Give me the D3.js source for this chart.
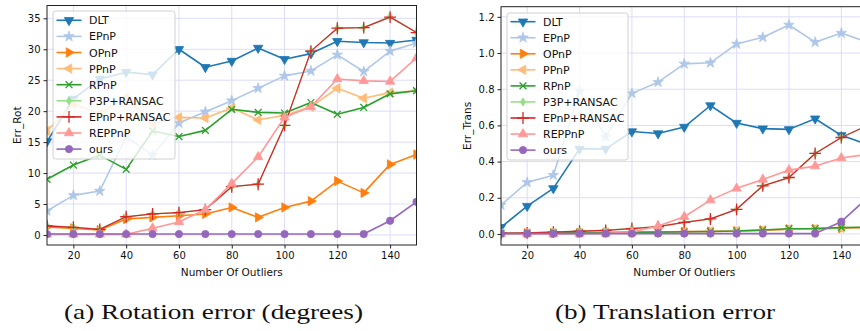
<!DOCTYPE html>
<html lang="en">
<head>
    <meta charset="UTF-8">
    <title>Rotation / Translation error vs outliers</title>
    <script src="https://d3js.org/d3.v7.min.js"></script>
    <style>
        body {
            margin: 0;
            background: #ffffff;
            font-family: 'DejaVu Sans', sans-serif;
        }
        svg { display: block; }
        .tick text { font-size: 10px; fill: #111; font-family: 'DejaVu Sans', sans-serif; }
        .tick line { stroke: #222; }
        .grid line { stroke: #dcdcfa; stroke-width: 1; }
        .axis-label { font-size: 10.5px; fill: #111; }
        .legend-text { font-size: 11px; fill: #111; }
        .caption { font-family: 'Liberation Serif', serif; font-size: 22px; fill: #111; }
    </style>
</head>
<body>
<div id="chart"></div>
<script>
    const outliers = [10, 20, 30, 40, 50, 60, 70, 80, 90, 100, 110, 120, 130, 140, 150];
    const methods = ["DLT", "EPnP", "OPnP", "PPnP", "RPnP", "P3P+RANSAC", "EPnP+RANSAC", "REPPnP", "ours"];

    // rotation error (degrees)
    const rotDLT = [15.1, 22.0, 25.2, 26.3, 25.9, 30.0, 27.1, 28.1, 30.2, 28.4, 29.3, 31.3, 31.1, 31.0, 31.5];
    const rotEPnP = [3.9, 6.4, 7.1, 15.9, 12.9, 18.1, 19.9, 21.7, 23.7, 25.7, 26.5, 29.1, 26.4, 29.7, 31.0];
    const rotOPnP = [1.3, 1.07, 0.8, 2.57, 2.85, 3.1, 3.4, 4.45, 2.85, 4.45, 5.47, 8.7, 6.8, 11.4, 13.0];
    const rotPPnP = [16.8, 21.2, 19.6, 22.2, 18.0, 19.0, 18.9, 20.5, 18.6, 19.3, 20.7, 23.7, 22.1, 23.0, 23.3];
    const rotRPnP = [9.0, 11.3, 12.9, 10.6, 16.8, 15.9, 16.9, 20.3, 19.8, 19.7, 21.4, 19.5, 20.6, 22.8, 23.3];
    const rotP3P = [1.5, 1.25, 0.95, 2.95, 3.4, 3.6, 4.1, 7.8, 8.2, 17.7, 29.7, 33.4, 33.5, 35.3, 32.7];
    const rotEPnPR = [1.45, 1.24, 0.9, 2.94, 3.4, 3.6, 4.1, 7.8, 8.2, 17.7, 29.7, 33.4, 33.5, 35.2, 32.7];
    const rotREPPnP = [0.1, 0.1, 0.1, 0.1, 1.1, 2.1, 4.1, 8.3, 12.6, 19.0, 20.7, 25.2, 24.9, 24.8, 28.6];
    const rotOurs = [0.15, 0.15, 0.15, 0.15, 0.15, 0.15, 0.15, 0.15, 0.15, 0.15, 0.15, 0.15, 0.15, 2.3, 5.35];

    // translation error
    const trDLT = [0.037, 0.154, 0.252, 0.47, 0.47, 0.566, 0.555, 0.591, 0.71, 0.613, 0.582, 0.578, 0.637, 0.545, 0.494];
    const trEPnP = [0.16, 0.285, 0.325, 0.79, 0.536, 0.777, 0.839, 0.94, 0.946, 1.05, 1.087, 1.155, 1.06, 1.11, 1.06];
    const trOPnP = [0.003, 0.004, 0.005, 0.006, 0.007, 0.008, 0.01, 0.012, 0.014, 0.016, 0.02, 0.026, 0.028, 0.032, 0.035];
    const trPPnP = [0.004, 0.005, 0.006, 0.007, 0.008, 0.009, 0.011, 0.013, 0.015, 0.018, 0.022, 0.027, 0.029, 0.033, 0.036];
    const trRPnP = [0.003, 0.005, 0.006, 0.007, 0.008, 0.009, 0.01, 0.012, 0.014, 0.016, 0.022, 0.029, 0.03, 0.035, 0.038];
    const trP3P = [0.005, 0.007, 0.011, 0.016, 0.021, 0.031, 0.041, 0.064, 0.083, 0.136, 0.266, 0.312, 0.445, 0.533, 0.6];
    const trEPnPR = [0.004, 0.006, 0.01, 0.015, 0.02, 0.03, 0.04, 0.064, 0.083, 0.136, 0.266, 0.312, 0.445, 0.533, 0.6];
    const trREPPnP = [0.001, 0.001, 0.001, 0.002, 0.003, 0.01, 0.044, 0.095, 0.187, 0.252, 0.301, 0.353, 0.375, 0.42, 0.44];
    const trOurs = [0.002, 0.002, 0.002, 0.002, 0.002, 0.002, 0.002, 0.002, 0.002, 0.002, 0.002, 0.002, 0.002, 0.068, 0.2];

    const rotTicks = [0, 5, 10, 15, 20, 25, 30, 35];
    const trTicks = [0.0, 0.2, 0.4, 0.6, 0.8, 1.0, 1.2];
    const xTicks = [20, 40, 60, 80, 100, 120, 140];

    const rotSeries = [rotDLT, rotEPnP, rotOPnP, rotPPnP, rotRPnP, rotP3P, rotEPnPR, rotREPPnP, rotOurs];
    const trSeries = [trDLT, trEPnP, trOPnP, trPPnP, trRPnP, trP3P, trEPnPR, trREPPnP, trOurs];

    // tab20-ish colours and matplotlib-like markers
    const styles = {
        "DLT":         { color: "#1f77b4", marker: "down" },
        "EPnP":        { color: "#aec7e8", marker: "star" },
        "OPnP":        { color: "#ff7f0e", marker: "right" },
        "PPnP":        { color: "#ffbb78", marker: "left" },
        "RPnP":        { color: "#2ca02c", marker: "x" },
        "P3P+RANSAC":  { color: "#98df8a", marker: "thin_diamond" },
        "EPnP+RANSAC": { color: "#d62728", marker: "plus" },
        "REPPnP":      { color: "#ff9896", marker: "up" },
        "ours":        { color: "#9467bd", marker: "circle" }
    };

    const W = 860, H = 331;
    const svg = d3.select("#chart").append("svg")
        .attr("width", W)
        .attr("height", H);

    function drawMarker(g, kind, color) {
        let p;
        if (kind === "circle") {
            p = g.append("path").attr("d", d3.symbol(d3.symbolCircle, 42)());
        } else if (kind === "star") {
            p = g.append("path").attr("d", d3.symbol(d3.symbolStar, 34)());
        } else if (kind === "x") {
            return g.append("path").attr("d", d3.symbol(d3.symbolTimes, 32)())
                .attr("fill", "none").attr("stroke", color).attr("stroke-width", 1.3);
        } else if (kind === "plus") {
            return g.append("path").attr("d", d3.symbol(d3.symbolPlus, 48)())
                .attr("fill", "none").attr("stroke", color).attr("stroke-width", 1.3);
        } else if (kind === "thin_diamond") {
            p = g.append("path").attr("d", "M0,-4.2L2.6,0L0,4.2L-2.6,0Z");
        } else {
            const rot = { up: 0, down: 180, right: 90, left: -90 }[kind];
            p = g.append("path").attr("d", d3.symbol(d3.symbolTriangle, 38)())
                .attr("transform", `rotate(${rot})`);
        }
        return p.attr("fill", color).attr("stroke", color).attr("stroke-width", 0.8);
    }

    function panel(cfg) {
        const x = d3.scaleLinear().domain([10, 150]).range([cfg.left, cfg.right]);
        const y = d3.scaleLinear().domain(cfg.yDomain).range([cfg.bottom, cfg.top]);

        const clipId = "clip-" + cfg.id;
        svg.append("clipPath").attr("id", clipId)
            .append("rect")
            .attr("x", cfg.left).attr("y", cfg.top)
            .attr("width", cfg.right - cfg.left).attr("height", cfg.bottom - cfg.top);

        // grid
        const grid = svg.append("g").attr("class", "grid").attr("clip-path", `url(#${clipId})`);
        grid.selectAll(".gx").data(xTicks).join("line")
            .attr("x1", d => x(d)).attr("x2", d => x(d))
            .attr("y1", cfg.top).attr("y2", cfg.bottom);
        grid.selectAll(".gy").data(cfg.yTicks).join("line")
            .attr("x1", cfg.left).attr("x2", cfg.right)
            .attr("y1", d => y(d)).attr("y2", d => y(d));

        // series
        const plot = svg.append("g").attr("clip-path", `url(#${clipId})`);
        const line = d3.line().x((d, i) => x(outliers[i])).y(d => y(d));
        cfg.series.forEach((vals, k) => {
            const st = styles[methods[k]];
            const lw = (methods[k] === "EPnP+RANSAC" || methods[k] === "P3P+RANSAC") ? 1.3 : 1.6;
            const g = plot.append("g");
            g.append("path")
                .datum(vals)
                .attr("d", line)
                .attr("fill", "none")
                .attr("stroke", st.color)
                .attr("stroke-width", lw)
                .attr("stroke-linejoin", "round");
            vals.forEach((v, i) => {
                const m = g.append("g").attr("transform", `translate(${x(outliers[i])},${y(v)})`);
                drawMarker(m, st.marker, st.color);
            });
        });

        // frame
        svg.append("rect")
            .attr("x", cfg.left).attr("y", cfg.top)
            .attr("width", cfg.right - cfg.left).attr("height", cfg.bottom - cfg.top)
            .attr("fill", "none").attr("stroke", "#222").attr("stroke-width", 1);

        // axes
        svg.append("g")
            .attr("transform", `translate(0,${cfg.bottom})`)
            .call(d3.axisBottom(x).tickValues(xTicks).tickSize(3.5).tickPadding(3))
            .call(g => g.select(".domain").remove());
        svg.append("g")
            .attr("transform", `translate(${cfg.left},0)`)
            .call(d3.axisLeft(y).tickValues(cfg.yTicks).tickSize(3.5).tickPadding(3)
                .tickFormat(cfg.fmt))
            .call(g => g.select(".domain").remove());

        svg.append("text")
            .attr("class", "axis-label")
            .attr("x", (cfg.left + cfg.right) / 2)
            .attr("y", 276)
            .attr("text-anchor", "middle")
            .text("Number Of Outliers");
        svg.append("text")
            .attr("class", "axis-label")
            .attr("transform", `translate(${cfg.ylabelX},${(cfg.top + cfg.bottom) / 2}) rotate(-90)`)
            .attr("text-anchor", "middle")
            .text(cfg.ylabel);

        // legend
        const lg = svg.append("g");
        lg.append("rect")
            .attr("x", cfg.legend.x).attr("y", cfg.legend.y)
            .attr("width", cfg.legend.w).attr("height", cfg.legend.h)
            .attr("rx", 2.5)
            .attr("fill", "white").attr("fill-opacity", 0.8)
            .attr("stroke", "#d0d0d0").attr("stroke-width", 1);
        methods.forEach((name, i) => {
            const st = styles[name];
            const cy = cfg.legend.row0 + i * cfg.legend.step;
            const x0 = cfg.legend.x + 3.5;
            lg.append("line")
                .attr("x1", x0).attr("x2", x0 + 25)
                .attr("y1", cy).attr("y2", cy)
                .attr("stroke", st.color).attr("stroke-width", 1.6);
            const m = lg.append("g").attr("transform", `translate(${x0 + 12.5},${cy})`);
            drawMarker(m, st.marker, st.color);
            lg.append("text")
                .attr("class", "legend-text")
                .attr("x", x0 + 32.5)
                .attr("y", cy + 4)
                .text(name);
        });

        svg.append("text")
            .attr("class", "caption")
            .attr("x", cfg.caption.x)
            .attr("y", 319)
            .attr("textLength", cfg.caption.len)
            .attr("lengthAdjust", "spacingAndGlyphs")
            .text(cfg.caption.text);
    }

    panel({
        id: "rot",
        left: 47, right: 416.5, top: 5.5, bottom: 245,
        yDomain: [-1.62, 37.07],
        yTicks: rotTicks,
        fmt: d3.format("d"),
        series: rotSeries,
        ylabel: "Err_Rot",
        ylabelX: 21,
        legend: { x: 53, y: 11, w: 122, h: 148, row0: 20.3, step: 16.1 },
        caption: { x: 64, len: 299, text: "(a) Rotation error (degrees)" }
    });

    panel({
        id: "tr",
        left: 501, right: 867.5, top: 6.7, bottom: 245,
        yDomain: [-0.061, 1.256],
        yTicks: trTicks,
        fmt: d3.format(".1f"),
        series: trSeries,
        ylabel: "Err_Trans",
        ylabelX: 471,
        legend: { x: 507, y: 13, w: 121, h: 147, row0: 21.7, step: 16.05 },
        caption: { x: 555, len: 220, text: "(b) Translation error" }
    });
</script>
</body>
</html>
